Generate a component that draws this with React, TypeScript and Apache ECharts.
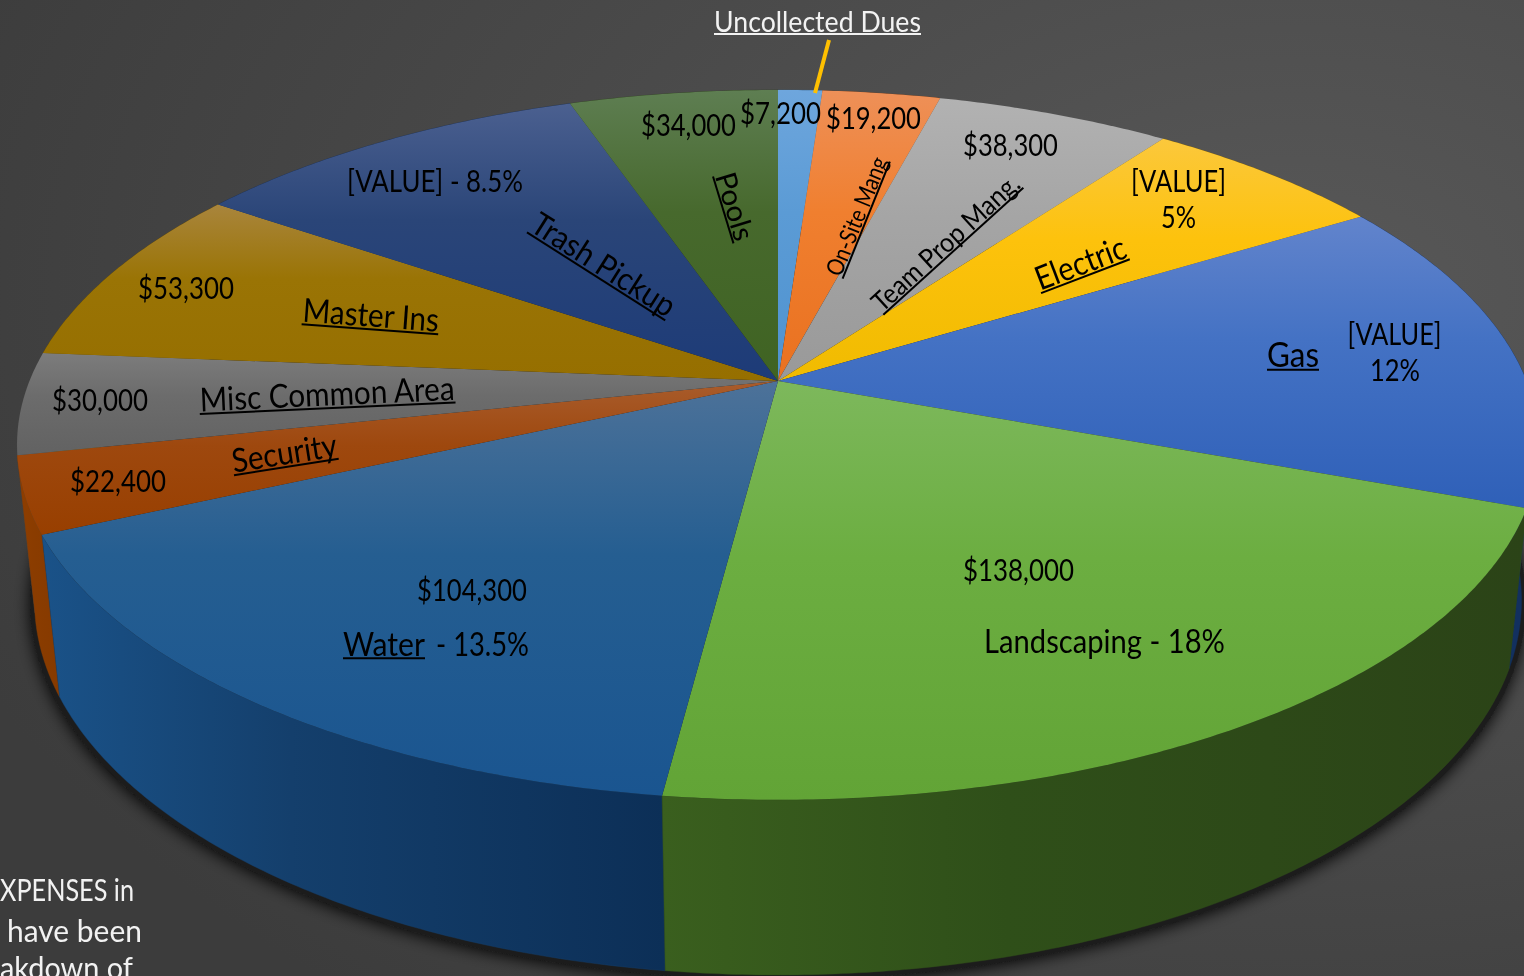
import React, { useEffect, useRef } from "react";
import * as echarts from "echarts";

// ---- data ----
const categories = ["Uncollected Dues", "On-Site Mang", "Team Prop Mang.", "Electric", "Gas", "Landscaping", "Water", "Security", "Misc Common Area", "Master Ins", "Trash Pickup", "Pools"];
const expenses = [7200, 19200, 38300, 40000, 93000, 138000, 104300, 22400, 30000, 53300, 65500, 34000];
const valueLabels = ["$7,200", "$19,200", "$38,300", "$34,000", "$53,300", "$30,000", "$22,400", "$104,300", "$138,000"];
const placeholderLabels = ["[VALUE]", "5%", "[VALUE]", "12%", "[VALUE] - 8.5%", " - 13.5%", " - 18%"];
const noteLines = ["XPENSES in", "have been", "akdown of"];

// ---- styling ----
const topStops = [
  ["#6ea6dd", "#5b9bd5", "#4f93d0"],
  ["#ee9058", "#f07f2f", "#e97120"],
  ["#b2b2b2", "#a5a5a5", "#999999"],
  ["#fbc83c", "#fdc20c", "#f0bb00"],
  ["#6284cc", "#4472c4", "#2f60b8"],
  ["#7db85c", "#6cae41", "#62a436"],
  ["#4d7299", "#255e91", "#1a5590"],
  ["#a95c2c", "#9e480e", "#983f00"],
  ["#7c7c7c", "#6c6c6c", "#626262"],
  ["#a9853c", "#9a7405", "#966f00"],
  ["#4b6090", "#2a4578", "#1d3b78"],
  ["#5e7e52", "#47692d", "#3f6322"],
];
const wallStops = [
  ["#2f5f8a", "#2f5f8a", "#2f5f8a"],
  ["#7f4018", "#7f4018", "#7f4018"],
  ["#555555", "#555555", "#555555"],
  ["#806000", "#806000", "#806000"],
  ["#12305f", "#12305f", "#12305f"],
  ["#3a5f1e", "#2f4f19", "#2b4317"],
  ["#1a5288", "#143f6c", "#0c2f57"],
  ["#8f3e00", "#8a3c00", "#863a00"],
  ["#444444", "#444444", "#444444"],
  ["#5f4700", "#5f4700", "#5f4700"],
  ["#132a52", "#132a52", "#132a52"],
  ["#2a4216", "#2a4216", "#2a4216"],
];

// perspective model of the disc
const CX = 778, CY = 381, A = 748.5, B = 343.4, P = 0.18, WALL_C = 157.2, WALL_D = 0.0227;
const project = (deg: number, z: number) => {
  const t = (deg * Math.PI) / 180;
  const u = Math.sin(t), v = -Math.cos(t);
  const w = 1 - P * v + WALL_D * z;
  return [CX + (A * u) / w, CY + (B * v + WALL_C * z) / w];
};
const total = expenses.reduce((a, b) => a + b, 0);
const startDeg = (i: number) => (expenses.slice(0, i).reduce((a, b) => a + b, 0) / total) * 360;
const endDeg = (i: number) => startDeg(i + 1);
const arc = (a: number, b: number, z: number) => {
  const n = Math.max(2, Math.ceil((b - a) * 2));
  const pts: number[][] = [];
  for (let k = 0; k <= n; k++) pts.push(project(a + ((b - a) * k) / n, z));
  return pts;
};

const vGrad = (c: string[], mid: number) =>
  new echarts.graphic.LinearGradient(0, 0, 0, 1, [
    { offset: 0, color: c[0] },
    { offset: mid, color: c[1] },
    { offset: 1, color: c[2] },
  ]);
const hGrad = (c: string[]) =>
  new echarts.graphic.LinearGradient(0, 0, 1, 0, [
    { offset: 0, color: c[0] },
    { offset: 0.4, color: c[1] },
    { offset: 1, color: c[2] },
  ]);

// text, centre x, centre y, clockwise rotation, font size, drawn width, underline, colour
type L = [string, number, number, number, number, number, boolean, string];
const INK = "#000000", PALE = "#f2f2f2";
const labelLayout: L[] = [
  [categories[0], 817.5, 21, 0, 28, 207, true, PALE],
  [valueLabels[0], 780.5, 112, 0, 30, 81, false, INK],
  [valueLabels[1], 873.5, 117, 0, 30, 95, false, INK],
  [valueLabels[2], 1010.5, 144, 0, 30, 95, false, INK],
  [placeholderLabels[0], 1178.5, 181, 0, 30, 95, false, INK],
  [placeholderLabels[1], 1178.5, 217, 0, 30, 35, false, INK],
  [placeholderLabels[2], 1394.5, 334, 0, 30, 94, false, INK],
  [placeholderLabels[3], 1395, 370, 0, 30, 50, false, INK],
  [categories[4], 1293, 354, 0, 34, 52, true, INK],
  [categories[3], 1080, 262, -20.9, 33, 95, true, INK],
  [categories[2], 945, 242, -42.2, 27, 189, true, INK],
  [categories[1], 856, 216, -68, 24, 126, true, INK],
  [categories[11], 736, 206, 73, 29, 70, true, INK],
  [categories[10], 604, 264, 32.5, 32, 164, true, INK],
  [placeholderLabels[4], 435, 180, 0, 30, 176, false, INK],
  [valueLabels[3], 688.5, 124, 0, 30, 95, false, INK],
  [valueLabels[4], 186, 287, 0, 30, 96, false, INK],
  [categories[9], 371, 314, 4.2, 33, 137, true, INK],
  [valueLabels[5], 100, 399, 0, 30, 96, false, INK],
  [categories[8], 327, 393, -2.6, 33, 256, true, INK],
  [categories[7], 284, 452, -9, 33, 106, true, INK],
  [valueLabels[6], 118, 480, 0, 30, 96, false, INK],
  [valueLabels[7], 472, 589, 0, 30, 110, false, INK],
  [categories[6], 384, 643, 0, 33, 82, true, INK],
  [placeholderLabels[5], 479, 643, 0, 33, 100, false, INK],
  [valueLabels[8], 1018.5, 569, 0, 30, 111, false, INK],
  [categories[5] + placeholderLabels[6], 1104.5, 640, 0, 33, 241, false, INK],
  [noteLines[0], 67, 890, 0, 30, 134, false, PALE],
  [noteLines[1], 74.5, 930, 0, 30, 135, false, PALE],
  [noteLines[2], 66.5, 967, 0, 30, 133, false, PALE],
];

const measureCtx = document.createElement("canvas").getContext("2d") as CanvasRenderingContext2D;
const FONT = "Lato";

export default function App() {
  const ref = useRef<HTMLDivElement>(null);
  useEffect(() => {
    document.body.style.margin = "0";
    const chart = echarts.init(ref.current!, null, { renderer: "svg" });
    chart.setOption({
      animation: false,
      backgroundColor: new echarts.graphic.RadialGradient(0.85, 0.3, 0.95, [
        { offset: 0, color: "#585858" },
        { offset: 1, color: "#3c3c3c" },
      ]),
      series: [
        {
          type: "custom",
          coordinateSystem: "none",
          silent: true,
          z: 1,
          data: [[1]],
          renderItem: () => ({
            type: "polygon",
            shape: {
              points: arc(0, 360, 1).map(([x, y]) => [CX + (x - CX) * 1.006, 540 + (y - 540) * 1.006 + 2]),
            },
            style: { fill: "#1c1c1c", shadowBlur: 16, shadowColor: "rgba(0,0,0,0.95)", shadowOffsetY: 2 },
          }),
        },
        {
          type: "custom",
          name: "walls",
          coordinateSystem: "none",
          silent: true,
          z: 2,
          data: expenses.map((v) => [v]),
          renderItem: (p: any) => {
            const i = p.dataIndex;
            const a = startDeg(i), b = endDeg(i);
            const mid = (a + b) / 2;
            return {
              type: "polygon",
              z2: 180 - Math.abs(mid - 180),
              shape: { points: [...arc(a, b, 0), ...arc(a, b, 1).reverse()] },
              style: { fill: hGrad(wallStops[i]), stroke: wallStops[i][1], lineWidth: 0.4 },
            };
          },
        },
        {
          type: "custom",
          name: "top",
          coordinateSystem: "none",
          silent: true,
          z: 3,
          data: expenses.map((v) => [v]),
          renderItem: (p: any) => {
            const i = p.dataIndex;
            const a = startDeg(i), b = endDeg(i);
            return {
              type: "polygon",
              shape: { points: [[CX, CY], ...arc(a, b, 0)] },
              style: { fill: vGrad(topStops[i], 0.42) },
            };
          },
        },
        {
          type: "custom",
          name: "leader",
          coordinateSystem: "none",
          silent: true,
          z: 4,
          data: [[1]],
          renderItem: () => ({
            type: "line",
            shape: { x1: 829, y1: 40, x2: 815, y2: 93 },
            style: { stroke: "#ffc000", lineWidth: 4 },
          }),
        },
        {
          type: "custom",
          name: "labels",
          coordinateSystem: "none",
          silent: true,
          z: 5,
          data: labelLayout.map((_, i) => [i]),
          renderItem: (p: any) => {
            const [text, x, y, rot, size, width, under, color] = labelLayout[p.dataIndex];
            measureCtx.font = `${size}px ${FONT}`;
            const natural = measureCtx.measureText(text).width || width;
            const children: any[] = [
              {
                type: "text",
                scaleX: width / natural,
                style: { text, x: 0, y: 0, fill: color, font: `${size}px ${FONT}`, align: "center", verticalAlign: "middle" },
              },
            ];
            if (under) {
              const uy = size * 0.46;
              children.push({
                type: "line",
                shape: { x1: -width / 2, y1: uy, x2: width / 2, y2: uy },
                style: { stroke: color, lineWidth: 2 },
              });
            }
            return { type: "group", x, y, rotation: (-rot * Math.PI) / 180, children };
          },
        },
      ],
    });
    return () => chart.dispose();
  }, []);
  return <div ref={ref} style={{ position: "fixed", left: 0, top: 0, width: 1524, height: 976 }} />;
}
